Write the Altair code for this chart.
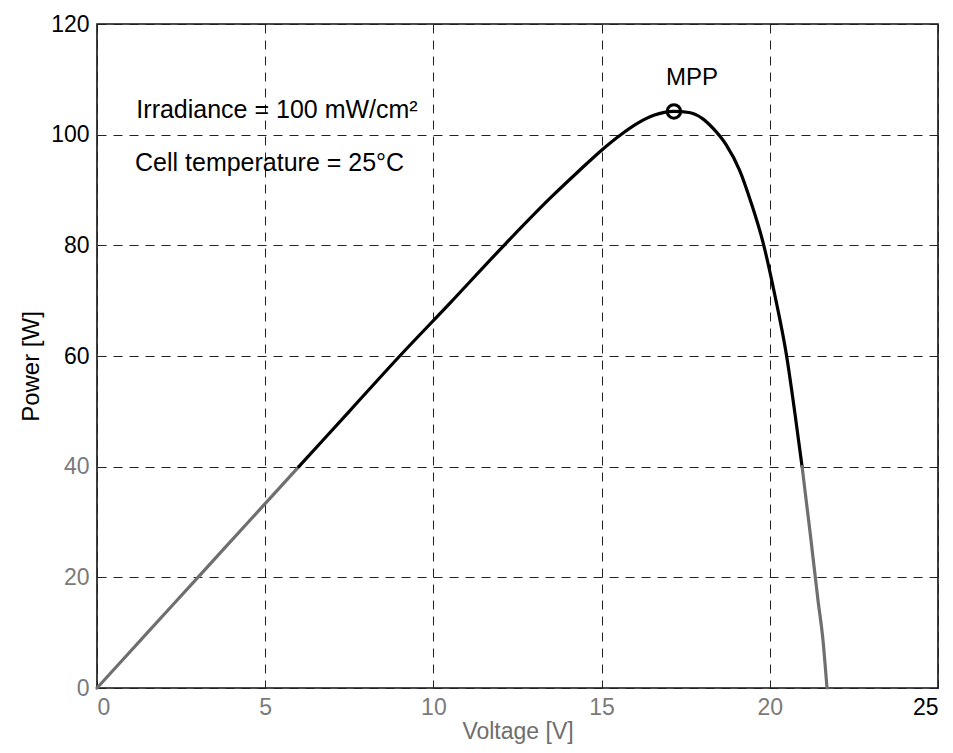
import altair as alt
import pandas as pd

# P-V curve
voltage = [0, 1.5, 3.0, 4.5, 6.0, 7.5, 9.0, 10.5, 12.1, 13.5, 14.3, 15.0, 15.55,
           16.05, 16.55, 17.15, 17.6, 18.0, 18.35, 18.7, 19.1, 19.45, 19.8, 20.15, 20.5,
           20.75, 20.96, 21.2, 21.43, 21.58, 21.7]
power = [0, 10, 20, 30, 40, 50, 60, 69.6, 80, 88.7, 93.3, 97.2, 99.9,
         102.0, 103.5, 104.2, 104.0, 102.9, 100.9, 98.2, 93.6, 87.6, 80.5, 71, 60,
         49.5, 40, 28, 16, 8.7, 0]

# scanned picture: the curve is lighter below these voltages / above
light_left_until = 6.0
light_right_from = 20.96

mpp_v = [17.15]
mpp_p = [104.2]

x_ticks = [0, 5, 10, 15, 20, 25]
y_ticks = [0, 20, 40, 60, 80, 100, 120]

note_text = ["Irradiance = 100 mW/cm\u00b2", "Cell temperature = 25\u00b0C"]
note_v = [1.17, 1.13]
note_p = [104.5, 94.9]

mpp_label = ["MPP"]
mpp_label_v = [17.69]
mpp_label_p = [110.2]

FONT = "Liberation Sans"

df = pd.DataFrame({"V": voltage, "P": power})
seg_left = df[df.V <= light_left_until].assign(seg="a", shade="lo")
seg_mid = df[(df.V >= light_left_until) & (df.V <= light_right_from)].assign(seg="b", shade="hi")
seg_right = df[df.V >= light_right_from].assign(seg="c", shade="lo")
curve = pd.concat([seg_left, seg_mid, seg_right], ignore_index=True)

xscale = alt.Scale(domain=[0, 25], nice=False, zero=False)
yscale = alt.Scale(domain=[0, 120], nice=False, zero=False)

xaxis = alt.Axis(
    values=x_ticks, grid=True, gridDash=[9, 7], gridColor="#222222", gridWidth=1,
    domain=False, ticks=False, labelFont=FONT, labelFontSize=23, labelPadding=8,
    labelColor={"condition": {"test": "datum.value < 25", "value": "#7a7a7a"}, "value": "#000000"},
    title="Voltage [V]", titleFont=FONT, titleFontSize=23, titleFontWeight="normal",
    titleColor="#6e6e6e", titleBaseline="alphabetic", titleY=50,
)
yaxis = alt.Axis(
    values=y_ticks, grid=True, gridDash=[9, 7], gridColor="#222222", gridWidth=1,
    domain=False, ticks=False, labelFont=FONT, labelFontSize=23, labelPadding=8,
    labelColor={"condition": {"test": "datum.value <= 40", "value": "#7a7a7a"}, "value": "#000000"},
    title="Power [W]", titleFont=FONT, titleFontSize=24, titleFontWeight="normal",
    titleColor="#000000", titleAngle=-90, titleBaseline="bottom", titleAlign="center",
    titleX=-54, titleY=342,
)

line = alt.Chart(curve).mark_line(
    strokeWidth=3.2, strokeCap="round", strokeJoin="round", interpolate="monotone"
).encode(
    x=alt.X("V:Q", scale=xscale, axis=xaxis),
    y=alt.Y("P:Q", scale=yscale, axis=yaxis),
    color=alt.Color("shade:N", scale=alt.Scale(domain=["hi", "lo"], range=["#000000", "#6f6f6f"]), legend=None),
    detail="seg:N",
    order="V:Q",
)

mpp = alt.Chart(pd.DataFrame({"V": mpp_v, "P": mpp_p})).mark_point(
    shape="circle", filled=False, size=180, strokeWidth=3, color="#000000", opacity=1
).encode(x=alt.X("V:Q", scale=xscale), y=alt.Y("P:Q", scale=yscale))

notes = alt.Chart(pd.DataFrame({"V": note_v, "P": note_p, "t": note_text})).mark_text(
    align="left", baseline="middle", font=FONT, fontSize=25, color="#000000"
).encode(x=alt.X("V:Q", scale=xscale), y=alt.Y("P:Q", scale=yscale), text="t:N")

mpp_txt = alt.Chart(pd.DataFrame({"V": mpp_label_v, "P": mpp_label_p, "t": mpp_label})).mark_text(
    align="center", baseline="middle", font=FONT, fontSize=24, color="#000000"
).encode(x=alt.X("V:Q", scale=xscale), y=alt.Y("P:Q", scale=yscale), text="t:N")

chart = alt.layer(line, mpp, notes, mpp_txt).properties(
    width=841, height=664,
    padding={"left": 89, "top": 16, "right": 7, "bottom": 57},
    autosize=alt.AutoSizeParams(type="none"),
    background="#ffffff",
).configure_view(stroke="#111111", strokeWidth=1.6)

chart.save("out.html", embed_options={"renderer": "svg", "actions": False})
